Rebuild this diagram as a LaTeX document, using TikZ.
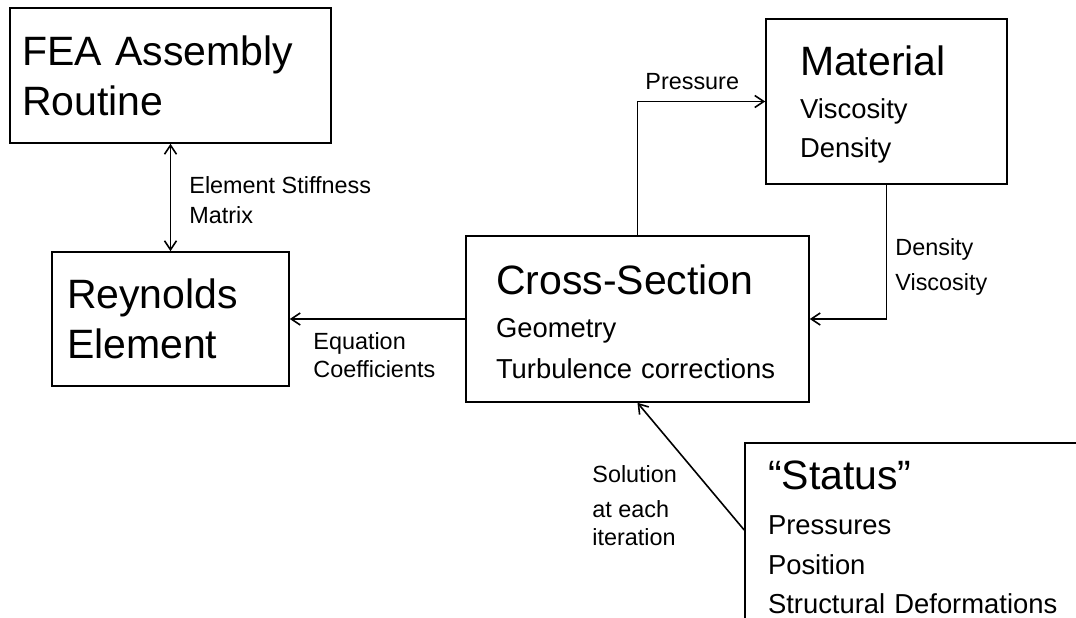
\documentclass[tikz,border=0pt]{standalone}
\usepackage{fontspec}
\setmainfont{Liberation Sans}
\usetikzlibrary{arrows.meta}

\newcommand{\boxtitle}[1]{{\fontsize{20.5}{20.5}\selectfont\rule{0pt}{18pt}#1}}

\begin{document}
\begin{tikzpicture}[x=0.5pt,y=-0.5pt,
    >={Straight Barb[length=4.5pt,width=6pt]},
    blk/.style={draw, line width=0.8pt, align=left, inner ysep=0pt},
    big/.style={font=\fontsize{20.5}{25}\selectfont},
    small/.style={font=\fontsize{13.7}{19.75}\selectfont},
    lbl/.style={inner sep=0pt, align=left, anchor=north west, font=\fontsize{11.7}{15}\selectfont}]
  \useasboundingbox (0,0) rectangle (1076,617);
  \clip (0,0) rectangle (1076,617);
  % Boxes
  \node[blk, big, minimum width=160.5pt, minimum height=67.5pt, inner xsep=6pt, text width=148.5pt]
    (fea) at (170.5,75.5) {FEA Assembly\\Routine};
  \node[blk, big, minimum width=118.5pt, minimum height=67pt, inner xsep=7.5pt, text width=103.5pt]
    (rey) at (170.5,319) {Reynolds\\Element};
  \node[blk, small, minimum width=120.5pt, minimum height=82.5pt, inner xsep=17pt, text width=86.5pt]
    (mat) at (886.5,101.5) {\boxtitle{Material}\\[1.5pt]Viscosity\\Density};
  \node[blk, small, minimum width=171.5pt, minimum height=83pt, inner xsep=15pt, text width=141.5pt]
    (cs) at (637.5,319) {\boxtitle{Cross-Section}\\[1.75pt]Geometry\\[0.75pt]Turbulence corrections};
  \node[blk, small, minimum width=172.5pt, minimum height=91pt, inner xsep=11.5pt, text width=149.5pt]
    (st) at (917.5,534) {\boxtitle{“Status”}\\[2.75pt]Pressures\\Position\\Structural Deformations};
  % Connectors
  \draw[line width=0.8pt, <->] (fea) -- (rey);
  \draw[line width=0.8pt, ->] (cs) -- (rey);
  \draw[line width=0.8pt, ->] (cs.north) |- (mat.west);
  \draw[line width=0.8pt, ->] (mat.south) |- (cs.east);
  \draw[line width=0.8pt, ->] ([yshift=2pt]st.west) -- (cs.south);
  % Labels
  \node[lbl] (stiff) at (189,176) {Element Stiffness\\Matrix};
  \node[lbl] (coef) at (313,332) {Equation\\[-1pt]Coefficients};
  \node[lbl] (pres) at (645,73) {Pressure};
  \node[lbl] (dens) at (895,238) {Density\\[2.5pt]Viscosity};
  \node[lbl] (sol) at (592,465) {Solution\\[2.5pt]at each\\[-1pt]iteration};
\end{tikzpicture}
\end{document}
